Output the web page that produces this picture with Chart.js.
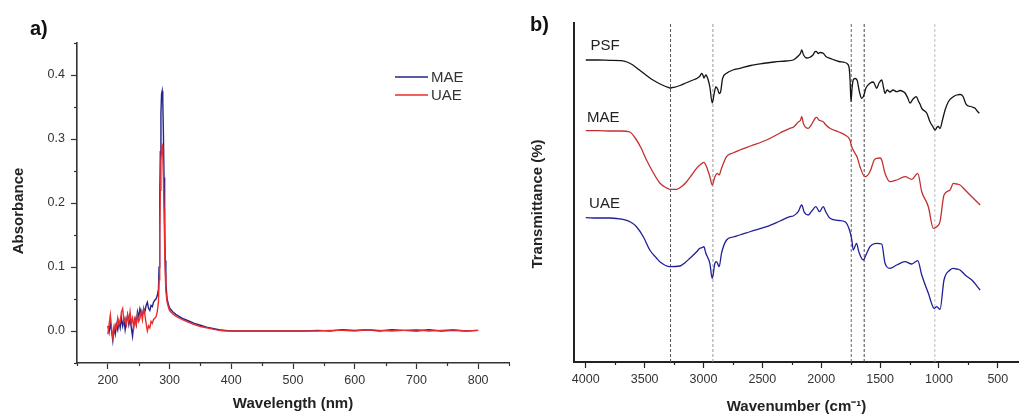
<!DOCTYPE html>
<html><head><meta charset="utf-8">
<script src="https://cdn.jsdelivr.net/npm/chart.js@4"></script>
<style>
html,body{margin:0;padding:0;background:#fff;width:1019px;height:416px;overflow:hidden}
#ca{position:absolute;left:0;top:0}
#cb{position:absolute;left:510px;top:0}
</style></head><body>
<canvas id="ca" width="515" height="416"></canvas>
<canvas id="cb" width="509" height="416"></canvas>
<script>
// ---------- Panel a: UV-Vis ----------
const uvWavelength = [200,202,204,206,208,210,212,214,216,218,220,222,224,226,228,230,232,234,236,238,240,242,244,246,248,250,252,254,256,258,260,262,264,266,268,270,272,274,276,278,280,282,
283,284,285,286,287,288,289,290,291,292,293,294,
296,298,300,305,310,320,330,340,350,360,370,380,390,400,
420,440,460,480,500,520,540,560,580,600,620,640,660,680,700,720,740,760,780,800];
const uvMAE = [0.008,-0.002,0.012,0.0,-0.015,0.005,-0.005,0.01,0.002,0.015,0.005,0.02,0.008,0.018,0.002,0.015,0.025,0.01,0.02,0.005,-0.008,0.012,0.02,0.01,0.03,0.022,0.035,0.028,0.025,0.035,0.03,0.04,0.045,0.035,0.032,0.04,0.038,0.045,0.048,0.05,0.055,0.065,
0.1,0.2,0.28,0.34,0.37,0.375,0.36,0.31,0.24,0.17,0.11,0.075,
0.05,0.042,0.036,0.03,0.026,0.02,0.016,0.012,0.009,0.006,0.004,0.002,0.001,0.0,
0,0,0,0,0,0,0.001,0,0.002,0.001,0.002,0,0.002,0.001,0,0.002,0,0.001,0,0.001];
const uvUAE = [-0.005,0.01,0.025,0.005,-0.01,0.0,0.01,0.005,0.02,0.01,0.015,0.03,0.035,0.015,0.02,0.01,0.025,0.015,0.03,0.012,0.02,0.005,0.018,0.01,0.025,0.015,0.02,0.03,0.018,0.035,0.025,0.012,0.0,0.008,0.005,0.015,0.012,0.018,0.02,0.022,0.03,0.045,
0.08,0.15,0.22,0.265,0.288,0.29,0.275,0.24,0.19,0.135,0.09,0.062,
0.045,0.038,0.032,0.027,0.023,0.018,0.014,0.01,0.007,0.005,0.003,0.001,0.0,0.0,
0,0,0,0,0,0,0,0.001,0.001,0,0.002,0.001,0,0.001,0.002,0,0.001,0.002,0,0.001];
const uvXTicks = [200,300,400,500,600,700,800];
const uvXMinorTicks = [150,250,350,450,550,650,750,850];
const uvYTicks = [0,0.1,0.2,0.3,0.4];
const uvYMinorTicks = [-0.05,0.05,0.15,0.25,0.35,0.45];

// ---------- Panel b: FTIR ----------
const psfWavenumber = [4000,3900,3800,3700,3650,3600,3550,3500,3450,3400,3350,3300,3280,3250,3200,3150,3100,3050,3030,3016,3005,2997,2980,2960,2946,2926,2910,2895,2880,2867,2855,2838,2804,2750,2691,2600,2500,2400,2300,2238,2195,2175,2166,2150,2124,2100,2070,2050,2039,2025,2010,1983,1960,1926,1900,1850,1800,1784,1764,1755,1747,1738,1728,1713,1696,1675,1656,1640,1620,1586,1557,1540,1529,1509,1486,1470,1458,1440,1416,1390,1359,1330,1303,1288,1265,1246,1220,1192,1175,1161,1146,1104,1076,1050,1033,1015,1005,991,970,948,920,878,849,820,806,793,775,764,750,730,708,693,675,657];
const psfT = [302,302,301.7,301.3,300,297,292.5,288,283.5,280,277,274.7,274,274.7,276.5,279,281.5,284,286,288.5,287,284,287,282,275,259,268,275,273,268.5,270,283.5,288.7,292,293.7,296.5,298.5,300,301,302,306,309,312,307,304,304.5,307,310.5,310.3,308.5,309.5,308.7,305.5,303.7,302.5,300.5,299.5,298.7,295,282,260.3,274,282,283.5,282,270,263.7,266,274,278.7,280,276,273.7,279,282,274,268.7,272,270,272,270.3,271.5,270.3,269,264,259,263,265.3,261,258,253.7,249,240.3,235,232,235,235.5,233.5,242,252,260.3,265.3,267,267.5,267,265,259,257,256,255.5,254.5,253.7,251,248.7];
const maeWavenumber = [4000,3900,3800,3700,3626,3580,3530,3484,3430,3371,3320,3286,3229,3180,3144,3100,3059,3020,2997,2974,2946,2926,2903,2884,2867,2847,2804,2750,2691,2600,2464,2350,2266,2238,2195,2175,2166,2150,2110,2080,2050,2039,2020,1983,1960,1926,1850,1798,1756,1741,1713,1695,1671,1628,1586,1550,1529,1500,1486,1458,1416,1359,1288,1231,1180,1146,1090,1048,1019,991,957,906,878,850,821,778,721,650];
const maeT = [231.3,231.3,231,231,230,224,214,202,190,179,174.5,172.7,172.7,176,180.3,187,193.7,198,199.7,195.3,185.3,177,185.3,188.7,187,193.7,205.3,209,212,216,222,229,233.7,234.7,240,242,245.3,238,233.7,238,244,244.7,242,240.3,237,233.7,230,227,222,215.3,208.7,205,195.3,185.3,190.3,202,203.7,204,202,188.7,180.3,182,185.3,182.7,188.7,170.3,155.3,133.7,135.3,140.3,167,172,178.7,178,177,172,165.3,157];
const uaeWavenumber = [4000,3900,3800,3700,3683,3620,3569,3510,3456,3400,3371,3286,3201,3150,3116,3060,3031,3010,2997,2980,2946,2926,2903,2889,2867,2847,2804,2750,2691,2600,2464,2350,2266,2238,2195,2166,2145,2110,2080,2045,2015,1983,1960,1926,1850,1798,1760,1740,1728,1700,1680,1644,1620,1586,1529,1486,1458,1416,1359,1288,1231,1180,1146,1090,1040,1019,991,957,906,878,850,821,778,721,650];
const uaeT = [144.3,144,144,143,142.7,140,135.3,125,112,104,100.3,95.3,96,100,103.7,110,113.7,114.5,115.3,108.7,98.7,83.7,98.7,100.3,95.3,108.7,122,125,127,130.5,135.3,141,145.3,146,150.3,157,150,147,151,155.3,150.3,155.3,150,143.7,141.5,140.3,132,122,112,118.7,110,102,107,115.3,118.7,118,98.7,93.7,97,100.3,98,101.3,87,68.7,53.7,55.3,52.7,82,92,93.7,93,92,87,82,72];
const irBands = [3280,2920,1745,1635,1035];
const irBandColors = ['#555','#999','#666','#444','#bbb'];
const irXTicks = [4000,3500,3000,2500,2000,1500,1000,500];
const irXMinorTicks = [3750,3250,2750,2250,1750,1250,750];

const FAM = '"Liberation Sans", Arial, Helvetica, sans-serif';
const pts = (xs, ys) => xs.map((x, i) => ({x: x, y: ys[i]}));

const decor = {
  id: 'decor',
  afterDraw(chart, args, o) {
    const ctx = chart.ctx, xs = chart.scales.x, ys = chart.scales.y;
    ctx.save();
    ctx.strokeStyle = o.tickColor; ctx.lineWidth = o.tickWidth;
    (o.minorX || []).forEach(v => {
      const p = Math.round(xs.getPixelForValue(v)) + 0.5;
      ctx.beginPath(); ctx.moveTo(p, xs.top); ctx.lineTo(p, xs.top + o.minorLen); ctx.stroke();
    });
    (o.minorY || []).forEach(v => {
      const p = Math.round(ys.getPixelForValue(v)) + 0.5;
      ctx.beginPath(); ctx.moveTo(ys.right - o.minorLen, p); ctx.lineTo(ys.right, p); ctx.stroke();
    });
    (o.legend || []).forEach(l => {
      const ds = chart.data.datasets[l.index];
      ctx.strokeStyle = ds.borderColor; ctx.lineWidth = 1.5;
      ctx.beginPath(); ctx.moveTo(l.x0, l.y); ctx.lineTo(l.x1, l.y); ctx.stroke();
      ctx.font = l.font; ctx.fillStyle = '#333'; ctx.textAlign = 'left'; ctx.textBaseline = 'middle';
      ctx.fillText(ds.label, l.x1 + 3, l.y + 1);
    });
    (o.texts || []).forEach(t => {
      ctx.save();
      ctx.font = t.font; ctx.fillStyle = t.color || '#222';
      ctx.textAlign = t.align || 'left'; ctx.textBaseline = t.baseline || 'alphabetic';
      let x = t.x, y = t.y;
      if (t.data) { x = xs.getPixelForValue(t.x); y = ys.getPixelForValue(t.y); }
      ctx.translate(x, y);
      if (t.rot) ctx.rotate(t.rot);
      ctx.fillText(t.text, 0, 0);
      ctx.restore();
    });
    ctx.restore();
  }
};

// ----- Chart a -----
new Chart(document.getElementById('ca'), {
  type: 'scatter',
  data: {
    datasets: [
      {label: 'MAE', data: pts(uvWavelength, uvMAE), showLine: true, borderColor: '#24248a', borderWidth: 1.4, pointRadius: 0, order: 1},
      {label: 'UAE', data: pts(uvWavelength, uvUAE), showLine: true, borderColor: '#ee2b2b', borderWidth: 1.4, pointRadius: 0, order: 0}
    ]
  },
  options: {
    responsive: false, animation: false, events: [],
    layout: {padding: {top: 43, left: 0, right: 6, bottom: 0}},
    plugins: {
      legend: {display: false}, tooltip: {enabled: false},
      decor: {
        tickColor: '#333', tickWidth: 1.2, minorLen: 3,
        minorX: uvXMinorTicks, minorY: uvYMinorTicks,
        legend: [
          {index: 0, x0: 395, x1: 428, y: 77, font: '15px ' + FAM},
          {index: 1, x0: 395, x1: 428, y: 95, font: '15px ' + FAM}
        ],
        texts: [
          {text: 'a)', x: 30, y: 35, font: 'bold 20px ' + FAM, color: '#111'},
          {text: 'Absorbance', x: 19, y: 211, rot: -Math.PI / 2, align: 'center', baseline: 'middle', font: 'bold 15px ' + FAM, color: '#222'}
        ]
      }
    },
    scales: {
      x: {
        type: 'linear', min: 150, max: 850,
        afterBuildTicks: s => { s.ticks = uvXTicks.map(v => ({value: v})); },
        afterFit: s => { s.height = 53; },
        ticks: {autoSkip: false, maxRotation: 0, padding: 4, color: '#333', font: {size: 12.5, family: FAM}, callback: v => String(v)},
        grid: {drawOnChartArea: false, tickLength: 6, tickColor: '#333', tickWidth: 1.2},
        border: {color: '#333', width: 1.6},
        title: {display: true, text: 'Wavelength (nm)', color: '#222', font: {size: 15, weight: 'bold', family: FAM}, padding: {top: 0, bottom: 3}}
      },
      y: {
        type: 'linear', min: -0.05, max: 0.45,
        afterBuildTicks: s => { s.ticks = uvYTicks.map(v => ({value: v})); },
        afterFit: s => { s.width = 77; },
        ticks: {autoSkip: false, padding: 6, color: '#333', font: {size: 12.5, family: FAM}, callback: v => Number(v).toFixed(1)},
        grid: {drawOnChartArea: false, tickLength: 6, tickColor: '#333', tickWidth: 1.2},
        border: {color: '#333', width: 1.6}
      }
    }
  },
  plugins: [decor]
});

// ----- Chart b -----
const bandSets = irBands.map((b, i) => ({
  label: 'band' + b, data: [{x: b, y: 0}, {x: b, y: 339}], showLine: true,
  borderColor: irBandColors[i], borderWidth: 1, borderDash: [3, 2], pointRadius: 0, order: 5
}));
const irLine = {showLine: true, borderWidth: 1.3, pointRadius: 0, order: 0, cubicInterpolationMode: 'monotone'};
new Chart(document.getElementById('cb'), {
  type: 'scatter',
  data: {
    datasets: [
      Object.assign({label: 'PSF', data: pts(psfWavenumber, psfT), borderColor: '#151515'}, irLine),
      Object.assign({label: 'MAE', data: pts(maeWavenumber, maeT), borderColor: '#c22f2f'}, irLine),
      Object.assign({label: 'UAE', data: pts(uaeWavenumber, uaeT), borderColor: '#1f1f98'}, irLine)
    ].concat(bandSets)
  },
  options: {
    responsive: false, animation: false, events: [],
    layout: {padding: {top: 23, left: 0, right: 0, bottom: 0}},
    plugins: {
      legend: {display: false}, tooltip: {enabled: false},
      decor: {
        tickColor: '#222', tickWidth: 1.2, minorLen: 3,
        minorX: irXMinorTicks,
        texts: [
          {text: 'b)', x: 20, y: 31, font: 'bold 20px ' + FAM, color: '#111'},
          {text: 'Transmittance (%)', x: 28, y: 204, rot: -Math.PI / 2, align: 'center', baseline: 'middle', font: 'bold 15px ' + FAM, color: '#222'},
          {text: 'PSF', data: true, x: 3960, y: 312, font: '15px ' + FAM, color: '#222'},
          {text: 'MAE', data: true, x: 3989, y: 240.3, font: '15px ' + FAM, color: '#222'},
          {text: 'UAE', data: true, x: 3972, y: 154.3, font: '15px ' + FAM, color: '#222'}
        ]
      }
    },
    scales: {
      x: {
        type: 'linear', min: 320, max: 4100, reverse: true,
        afterBuildTicks: s => { s.ticks = irXTicks.map(v => ({value: v})); },
        afterFit: s => { s.height = 54; },
        ticks: {autoSkip: false, maxRotation: 0, padding: 4, color: '#333', font: {size: 12.5, family: FAM}, callback: v => String(v)},
        grid: {drawOnChartArea: false, tickLength: 6, tickColor: '#222', tickWidth: 1.2},
        border: {color: '#222', width: 2},
        title: {display: true, text: 'Wavenumber (cm\u207B\u00B9)', color: '#222', font: {size: 15, weight: 'bold', family: FAM}, padding: {top: 0, bottom: 0}}
      },
      y: {
        type: 'linear', min: 0, max: 339,
        afterFit: s => { s.width = 64; },
        ticks: {display: false},
        grid: {display: false},
        border: {color: '#222', width: 2}
      }
    }
  },
  plugins: [decor]
});
</script>
</body></html>
